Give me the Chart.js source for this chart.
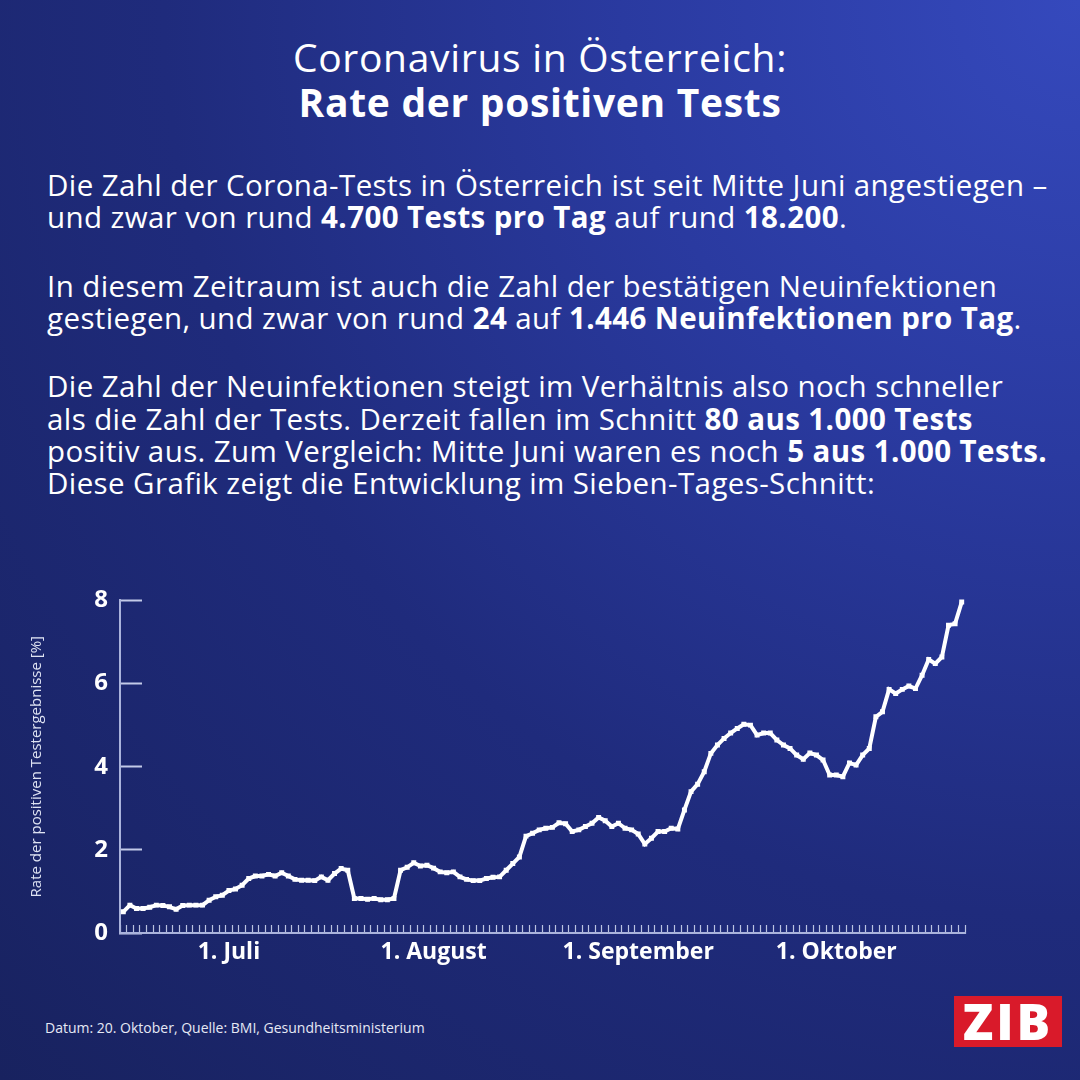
<!DOCTYPE html>
<html lang="de">
<head>
<meta charset="utf-8">
<title>Coronavirus in Österreich: Rate der positiven Tests</title>
<script src="https://cdn.jsdelivr.net/npm/chart.js@4.4.1/dist/chart.umd.min.js"></script>
<style>
  html, body {
    margin: 0;
    padding: 0;
  }
  body {
    width: 1080px;
    height: 1080px;
    overflow: hidden;
    position: relative;
    font-family: 'Open Sans', 'Noto Sans', sans-serif;
    color: #fff;
    background: radial-gradient(circle at 100% 0%, #3549bd 0%, #2a3aa0 30%, #1f2b7c 60%, #18225f 100%);
  }
  .title {
    position: absolute;
    left: 0;
    width: 1080px;
    text-align: center;
    font-size: 39px;
    line-height: 44px;
    letter-spacing: 0.7px;
    white-space: nowrap;
  }
  .line {
    position: absolute;
    left: 47px;
    font-size: 29.5px;
    line-height: 33px;
    letter-spacing: 0.4px;
    white-space: nowrap;
  }
  b { font-weight: 700; }
  #chartBox {
    position: absolute;
    left: 0;
    top: 552px;
    width: 1000px;
    height: 448px;
  }
  .source {
    position: absolute;
    left: 45px;
    top: 1018px;
    font-size: 14px;
    color: #e6e9f5;
  }
  .logo {
    position: absolute;
    left: 954px;
    top: 996px;
    width: 108px;
    height: 51px;
    background: #d91a2a;
    color: #fff;
    font-family: 'Open Sans', sans-serif;
    font-weight: 800;
    font-size: 50px;
    line-height: 51px;
    text-align: center;
    letter-spacing: 3px;
  }
</style>
</head>
<body>
<div class="title" style="top:35px">Coronavirus in Österreich:</div>
<div class="title" style="top:80px"><b>Rate der positiven Tests</b></div>

<div class="line" style="top:168px">Die Zahl der Corona-Tests in Österreich ist seit Mitte Juni angestiegen –</div>
<div class="line" style="top:200px">und zwar von rund <b>4.700 Tests pro Tag</b> auf rund <b>18.200</b>.</div>
<div class="line" style="top:269px">In diesem Zeitraum ist auch die Zahl der bestätigen Neuinfektionen</div>
<div class="line" style="top:301px">gestiegen, und zwar von rund <b>24</b> auf <b>1.446 Neuinfektionen pro Tag</b>.</div>
<div class="line" style="top:369px">Die Zahl der Neuinfektionen steigt im Verhältnis also noch schneller</div>
<div class="line" style="top:402px">als die Zahl der Tests. Derzeit fallen im Schnitt <b>80 aus 1.000 Tests</b></div>
<div class="line" style="top:434px">positiv aus. Zum Vergleich: Mitte Juni waren es noch <b>5 aus 1.000 Tests.</b></div>
<div class="line" style="top:466px">Diese Grafik zeigt die Entwicklung im Sieben-Tages-Schnitt:</div>

<div id="chartBox"><canvas id="rateChart"></canvas></div>

<div class="source">Datum: 20. Oktober, Quelle: BMI, Gesundheitsministerium</div>
<div class="logo">ZIB</div>

<script>
// Sieben-Tages-Schnitt der positiven Tests in %, ab 15. Juni
const juneValues = [0.51, 0.67, 0.59, 0.59, 0.62, 0.67, 0.66, 0.63, 0.57, 0.66, 0.67, 0.67, 0.67, 0.79, 0.87, 0.91];
const julyValues = [1.02, 1.06, 1.15, 1.31, 1.37, 1.37, 1.41, 1.37, 1.45, 1.37, 1.29, 1.27, 1.27, 1.26, 1.35, 1.27,
  1.43, 1.55, 1.51, 0.83, 0.83, 0.81, 0.83, 0.80, 0.80, 0.83, 1.51, 1.58, 1.69, 1.61, 1.63];
const augustValues = [1.56, 1.47, 1.45, 1.47, 1.35, 1.29, 1.26, 1.26, 1.31, 1.34, 1.35, 1.51, 1.67, 1.83, 2.33, 2.40,
  2.48, 2.52, 2.54, 2.65, 2.63, 2.44, 2.48, 2.56, 2.64, 2.78, 2.70, 2.56, 2.64, 2.52, 2.48];
const septemberValues = [2.38, 2.14, 2.28, 2.44, 2.44, 2.52, 2.50, 2.96, 3.40, 3.58, 3.88, 4.32, 4.52, 4.68, 4.81,
  4.92, 5.02, 5.00, 4.76, 4.81, 4.81, 4.64, 4.52, 4.44, 4.28, 4.18, 4.33, 4.28, 4.16, 3.80];
const octoberValues = [3.80, 3.76, 4.09, 4.04, 4.28, 4.44, 5.20, 5.32, 5.86, 5.76, 5.86, 5.94, 5.88, 6.20, 6.58,
  6.48, 6.64, 7.40, 7.44, 7.96];

const months = [
  { num: 6, firstDay: 15, values: juneValues },
  { num: 7, firstDay: 1, values: julyValues },
  { num: 8, firstDay: 1, values: augustValues },
  { num: 9, firstDay: 1, values: septemberValues },
  { num: 10, firstDay: 1, values: octoberValues }
];
const tickLabels = { 7: '1. Juli', 8: '1. August', 9: '1. September', 10: '1. Oktober' };
const yTicks = [0, 2, 4, 6, 8];

// one category per day, e.g. "15.6."
const dayLabels = [];
const rates = [];
months.forEach(m => {
  m.values.forEach((v, i) => {
    dayLabels.push((m.firstDay + i) + '.' + m.num + '.');
    rates.push(v);
  });
});

const ctx = document.getElementById('rateChart').getContext('2d');
const rateChart = new Chart(ctx, {
  type: 'line',
  data: {
    labels: dayLabels,
    datasets: [{
      data: rates,
      borderColor: '#ffffff',
      borderWidth: 4,
      pointStyle: 'rect',
      pointRadius: 3.5,
      pointBackgroundColor: '#ffffff',
      pointBorderWidth: 0,
      tension: 0,
      clip: 10
    }]
  },
  options: {
    responsive: true,
    maintainAspectRatio: false,
    animation: false,
    layout: {
      padding: { top: 32, right: 35, bottom: 0, left: 0 }
    },
    plugins: {
      legend: { display: false },
      tooltip: { enabled: false }
    },
    scales: {
      x: {
        type: 'category',
        offset: true,
        grid: {
          offset: true,
          drawOnChartArea: false,
          tickLength: -8,
          tickWidth: 1.2,
          tickColor: 'rgba(215, 222, 245, 0.85)'
        },
        border: { color: '#aab3dc', width: 2 },
        ticks: {
          autoSkip: false,
          maxRotation: 0,
          minRotation: 0,
          padding: 14,
          color: '#ffffff',
          font: { family: 'Open Sans', size: 23, weight: 'bold' },
          callback: function(value, index) {
            const parts = dayLabels[index].split('.');
            if (parts[0] === '1') {
              return tickLabels[parts[1]] || '';
            }
            return '';
          }
        },
        afterFit: function(scale) {
          scale.height = 67;
        }
      },
      y: {
        min: 0,
        max: 8,
        afterBuildTicks: function(scale) {
          scale.ticks = yTicks.map(v => ({ value: v }));
        },
        grid: {
          drawOnChartArea: false,
          tickLength: -22,
          tickWidth: 2,
          tickColor: '#c3cae8'
        },
        border: { color: '#aab3dc', width: 2 },
        ticks: {
          padding: 34,
          color: '#ffffff',
          font: { family: 'Open Sans', size: 24, weight: 'bold' }
        },
        title: {
          display: true,
          text: 'Rate der positiven Testergebnisse [%]',
          color: '#dfe3f3',
          font: { family: 'Open Sans', size: 15 },
          padding: { top: 28, bottom: 0 }
        },
        afterFit: function(scale) {
          scale.width = 120;
        }
      }
    }
  }
});
</script>
</body>
</html>
